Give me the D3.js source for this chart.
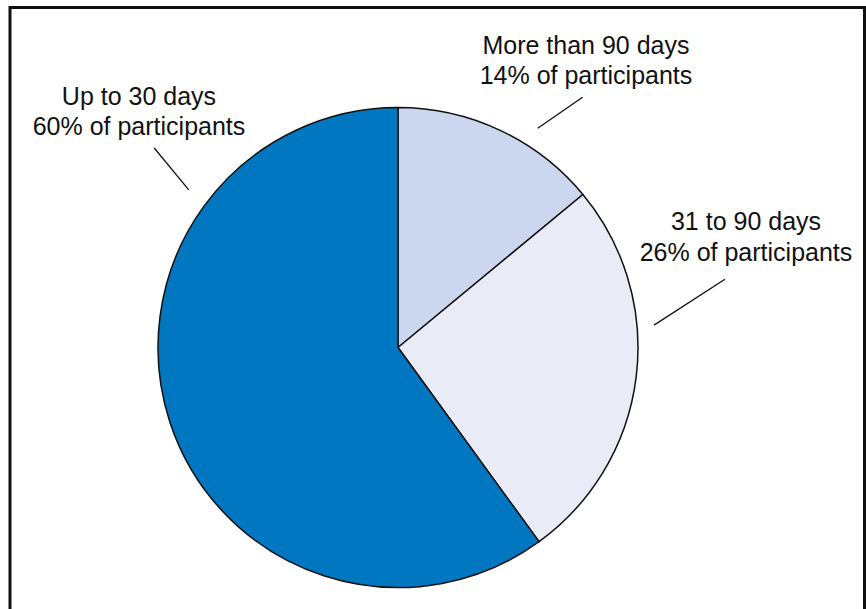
<!DOCTYPE html>
<html>
<head>
<meta charset="utf-8">
<script src="https://cdn.jsdelivr.net/npm/d3@7"></script>
<style>
    body { margin: 0; background: #fff; }
    text { font-family: "Liberation Sans", Arial, sans-serif; font-size: 25px; fill: #111; }
</style>
</head>
<body>
<div id="container"></div>
<script>
// data
const categories = ["More than 90 days", "31 to 90 days", "Up to 30 days"];
const shares = [14, 26, 60];
const colors = ["#ccd6ee", "#e9ecf6", "#0077c0"];

const main = () => {
    const width = 866, height = 609;
    const cx = 398, cy = 347.5, radius = 240;

    const svg = d3.select("#container")
        .append("svg")
        .attr("width", width)
        .attr("height", height);

    // frame (bottom edge runs off the page)
    svg.append("rect")
        .attr("x", 10)
        .attr("y", 7.5)
        .attr("width", 854.5)
        .attr("height", 620)
        .attr("fill", "none")
        .attr("stroke", "#111")
        .attr("stroke-width", 3);

    const pie = d3.pie().sort(null).value((d) => d);
    const arcs = pie(shares);
    const arcMaker = d3.arc().innerRadius(0).outerRadius(radius);

    const g = svg.append("g")
        .attr("transform", "translate(" + cx + "," + cy + ")");

    g.selectAll(".slice").data(arcs)
        .enter()
        .append("path")
        .attr("class", "slice")
        .attr("d", arcMaker)
        .attr("fill", (d, i) => colors[i])
        .attr("stroke", "#111")
        .attr("stroke-width", 1.5)
        .attr("stroke-linejoin", "round");

    // label layout: leader line angle (deg), radii, text centre and first baseline
    const labelLayout = [
        {a1: 32.5, r1: 260, a2: 36.4, r2: 311, x: 586, y: 54, dy: 30},
        {a1: 85, r1: 257, a2: 78.2, r2: 334, x: 746, y: 230, dy: 31},
        {a1: 307, r1: 262, a2: 309.3, r2: 315, x: 139, y: 105, dy: 30}
    ];

    arcs.forEach((d, i) => {
        const l = labelLayout[i];
        const p1 = d3.pointRadial(l.a1 * Math.PI / 180, l.r1);
        const p2 = d3.pointRadial(l.a2 * Math.PI / 180, l.r2);
        g.append("line")
            .attr("x1", p1[0]).attr("y1", p1[1])
            .attr("x2", p2[0]).attr("y2", p2[1])
            .attr("stroke", "#111")
            .attr("stroke-width", 1.3);

        const t = svg.append("text")
            .attr("text-anchor", "middle")
            .attr("x", l.x)
            .attr("y", l.y);
        t.append("tspan").attr("x", l.x).text(categories[i]);
        t.append("tspan").attr("x", l.x).attr("dy", l.dy)
            .text(shares[i] + "% of participants");
    });
};

main();
</script>
</body>
</html>
